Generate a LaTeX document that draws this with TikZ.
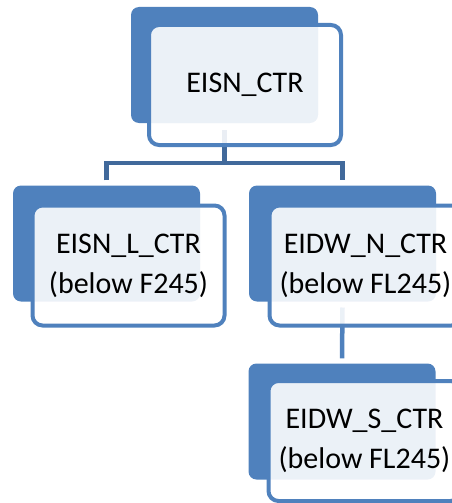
\documentclass[tikz,border=0pt]{standalone}
\usepackage{fontspec}
\setmainfont{Carlito}
\usepackage{xcolor}
\usepackage{tikz}
\usetikzlibrary{backgrounds}

\definecolor{boxblue}{HTML}{4F81BD}
\definecolor{linkblue}{HTML}{41699B}

\begin{document}
\begin{tikzpicture}[x=1pt, y=-1pt,
    backbox/.style={fill=boxblue, rounded corners=8pt, minimum width=187pt, minimum height=116pt, inner sep=0pt},
    frontbox/.style={draw=boxblue, line width=4pt, fill=white, fill opacity=0.89, text opacity=1, rounded corners=10pt,
      minimum width=192pt, minimum height=120pt, inner sep=0pt, align=center,
      font=\fontsize{30}{40}\selectfont},
    link/.style={draw=linkblue, line width=4.5pt}]
  \useasboundingbox (0,0) rectangle (451,503);

  \node[frontbox] (ctr) at (245,85) {EISN\_CTR};
  \node[frontbox] (lctr) at (128.5,265.5) {EISN\_L\_CTR\\(below F245)};
  \node[frontbox] (nctr) at (365.5,265.5) {EIDW\_N\_CTR\\(below FL245)};
  \node[frontbox] (sctr) at (364.5,441) {EIDW\_S\_CTR\\(below FL245)};

  \begin{scope}[on background layer]
    \node[backbox] (ctrb) at (224.5,65) {};
    \node[backbox] (lctrb) at (106.5,243.5) {};
    \node[backbox] (nctrb) at (342.5,243.5) {};
    \node[backbox] (sctrb) at (342,421.5) {};

    \coordinate (fork) at (224.5,163);
    \draw[link] ([yshift=17pt]ctr.south -| ctrb.south) -- (fork);
    \draw[link] ([yshift=5pt]lctrb.north) |- (fork) -| ([yshift=5pt]nctrb.north);
    \draw[link, draw=boxblue] ([yshift=20pt]nctr.south -| nctrb.south) -- ([yshift=5pt]sctrb.north);
  \end{scope}
\end{tikzpicture}
\end{document}
